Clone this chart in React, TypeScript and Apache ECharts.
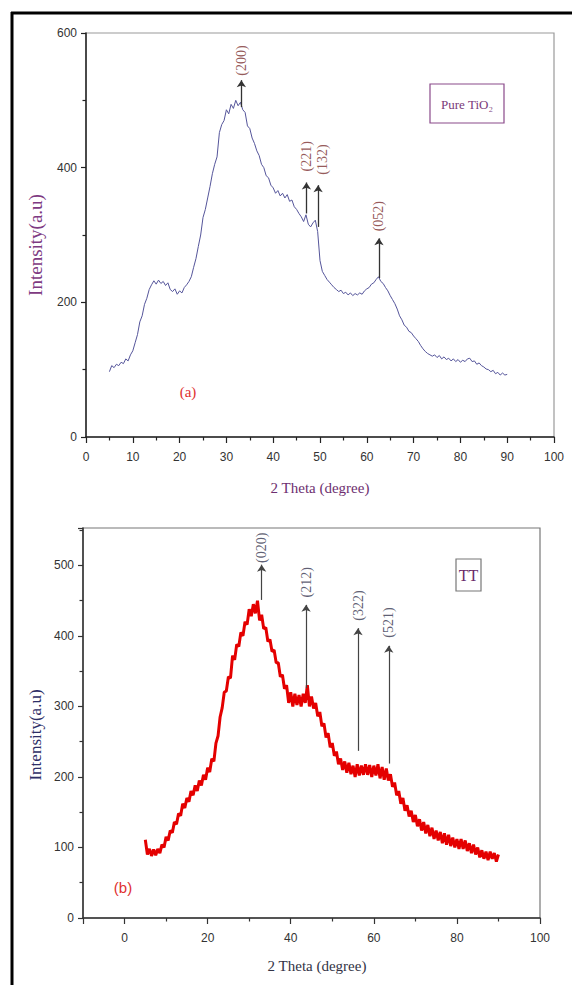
import React, { useEffect, useRef } from "react";
import * as echarts from "echarts";

// 2-theta sampling grid (degrees), shared by both patterns
const theta = [
  5, 5.5, 6, 6.5, 7, 7.5, 8, 8.5, 9, 9.5,
  10, 10.5, 11, 11.5, 12, 12.5, 13, 13.5, 14, 14.5,
  15, 15.5, 16, 16.5, 17, 17.5, 18, 18.5, 19, 19.5,
  20, 20.5, 21, 21.5, 22, 22.5, 23, 23.5, 24, 24.5,
  25, 25.5, 26, 26.5, 27, 27.5, 28, 28.5, 29, 29.5,
  30, 30.5, 31, 31.5, 32, 32.5, 33, 33.5, 34, 34.5,
  35, 35.5, 36, 36.5, 37, 37.5, 38, 38.5, 39, 39.5,
  40, 40.5, 41, 41.5, 42, 42.5, 43, 43.5, 44, 44.5,
  45, 45.5, 46, 46.5, 47, 47.5, 48, 48.5, 49, 49.5,
  50, 50.5, 51, 51.5, 52, 52.5, 53, 53.5, 54, 54.5,
  55, 55.5, 56, 56.5, 57, 57.5, 58, 58.5, 59, 59.5,
  60, 60.5, 61, 61.5, 62, 62.5, 63, 63.5, 64, 64.5,
  65, 65.5, 66, 66.5, 67, 67.5, 68, 68.5, 69, 69.5,
  70, 70.5, 71, 71.5, 72, 72.5, 73, 73.5, 74, 74.5,
  75, 75.5, 76, 76.5, 77, 77.5, 78, 78.5, 79, 79.5,
  80, 80.5, 81, 81.5, 82, 82.5, 83, 83.5, 84, 84.5,
  85, 85.5, 86, 86.5, 87, 87.5, 88, 88.5, 89, 89.5,
  90,
];

// (a) Pure TiO2 intensity
const pureTiO2 = [
  97, 106, 103, 108, 106, 111, 109, 116, 113, 122,
  128, 140, 152, 171, 180, 197, 206, 219, 226, 232,
  227, 233, 228, 231, 225, 229, 219, 216, 220, 212,
  217, 214, 222, 226, 231, 238, 252, 265, 283, 300,
  326, 338, 355, 372, 391, 405, 416, 452, 464, 470,
  486, 480, 494, 488, 500, 492, 497, 486, 482, 462,
  458, 444, 436, 425, 418, 405, 400, 388, 385, 374,
  370, 362, 366, 358, 362, 355, 360, 350, 352, 342,
  338, 332, 327, 320, 330, 316, 312, 318, 322, 305,
  262, 246, 240, 234, 230, 226, 222, 219, 216, 218,
  213, 215, 211, 214, 210, 213, 211, 214, 212, 217,
  220, 222, 227, 229, 234, 238, 231, 228, 222, 217,
  210, 204, 198, 190, 180, 174, 166, 163, 157, 155,
  150, 146, 142, 136, 131, 127, 124, 122, 120, 122,
  118, 121, 116, 119, 115, 117, 113, 116, 112, 115,
  111, 114, 112, 116, 117, 112, 113, 108, 110, 106,
  104, 101, 100, 97, 99, 94, 96, 92, 95, 92,
  93,
];

// (b) TT intensity
const ttSample = [
  111, 90, 98, 88, 97, 89, 98, 92, 104, 100,
  115, 110, 124, 121, 136, 133, 148, 145, 162, 156,
  170, 165, 180, 174, 188, 180, 195, 188, 203, 196,
  213, 207, 226, 222, 248, 258, 285, 298, 320, 322,
  342, 340, 372, 366, 388, 385, 405, 400, 420, 416,
  438, 428, 445, 432, 450, 422, 430, 410, 412, 392,
  395, 378, 380, 362, 362, 342, 345, 325, 330, 305,
  320, 300, 318, 302, 316, 300, 318, 305, 330, 300,
  314, 297, 305, 286, 292, 272, 276, 256, 262, 242,
  248, 230, 236, 218, 226, 210, 222, 206, 220, 204,
  216, 200, 218, 202, 216, 203, 218, 203, 217, 200,
  216, 202, 218, 198, 214, 196, 212, 195, 204, 186,
  192, 174, 180, 162, 170, 152, 160, 144, 152, 136,
  146, 130, 140, 124, 136, 120, 132, 116, 128, 112,
  124, 110, 122, 106, 120, 104, 118, 102, 114, 100,
  112, 98, 112, 98, 110, 95, 106, 92, 104, 90,
  100, 86, 96, 84, 94, 82, 94, 84, 92, 80,
  90,
];

// peak annotations (a)
const topPeakLabels = ["(200)", "(221)", "(132)", "(052)"];
const topPeakTheta = [33.2, 47.1, 49.6, 62.6];
const topArrowFrom = [490, 332, 312, 236];
const topArrowTo = [530, 378, 374, 295];
const topLabelTheta = [33.2, 47.1, 50.6, 62.6];
const topLabelY = [559, 417, 412, 328];

// peak annotations (b)
const ttPeakLabels = ["(020)", "(212)", "(322)", "(521)"];
const ttPeakTheta = [33.0, 43.7, 56.2, 63.6];
const ttArrowFrom = [451, 326, 237, 219];
const ttArrowTo = [501, 444, 411, 386];
const ttLabelY = [525, 476, 443, 419];

const SANS = "'Liberation Sans', Arial, sans-serif";
const SERIF = "'Liberation Serif', 'Times New Roman', serif";

export default function App() {
  const ref = useRef<HTMLDivElement>(null);

  useEffect(() => {
    if (!ref.current) return;
    const chart = echarts.init(ref.current, undefined, { renderer: "svg" });

    const axisLabel = { color: "#333", fontFamily: SANS, fontSize: 12 };

    const option: any = {
      animation: false,
      backgroundColor: "#fff",
      grid: [
        { left: 86, top: 33, width: 468, height: 404, show: true, borderColor: "#9a9a9a", borderWidth: 1.2, containLabel: false },
        { left: 83, top: 528, width: 457, height: 390, show: true, borderColor: "#777", borderWidth: 1.2, containLabel: false },
      ],
      xAxis: [
        {
          type: "value", gridIndex: 0, min: 0, max: 100, interval: 10,
          axisLine: { onZero: false, lineStyle: { color: "#222", width: 1.5 } },
          axisTick: { show: true, length: 6, lineStyle: { color: "#222", width: 1.2 } },
          minorTick: { show: true, splitNumber: 2, length: 3.5, lineStyle: { color: "#222", width: 1.2 } },
          splitLine: { show: false },
          axisLabel: { ...axisLabel, margin: 14 },
        },
        {
          type: "value", gridIndex: 1, min: -10, max: 100, splitNumber: 5,
          axisLine: { onZero: false, lineStyle: { color: "#333", width: 1.5 } },
          axisTick: { show: true, length: 6, lineStyle: { color: "#333", width: 1.2 } },
          minorTick: { show: true, splitNumber: 2, length: 3.5, lineStyle: { color: "#333", width: 1.2 } },
          splitLine: { show: false },
          axisLabel: { ...axisLabel, margin: 14, showMinLabel: false },
        },
      ],
      yAxis: [
        {
          type: "value", gridIndex: 0, min: 0, max: 600, interval: 200,
          axisLine: { show: true, onZero: false, lineStyle: { color: "#222", width: 1.5 } },
          axisTick: { show: true, length: 5, lineStyle: { color: "#222", width: 1.2 } },
          minorTick: { show: true, splitNumber: 2, length: 3.5, lineStyle: { color: "#222", width: 1.2 } },
          splitLine: { show: false },
          axisLabel: { ...axisLabel, margin: 9 },
        },
        {
          type: "value", gridIndex: 1, min: 0, max: 553, interval: 100,
          axisLine: { show: true, onZero: false, lineStyle: { color: "#333", width: 1.5 } },
          axisTick: { show: true, length: 5, lineStyle: { color: "#333", width: 1.2 } },
          minorTick: { show: true, splitNumber: 2, length: 3.5, lineStyle: { color: "#333", width: 1.2 } },
          splitLine: { show: false },
          axisLabel: { ...axisLabel, margin: 9, showMaxLabel: false },
        },
      ],
      series: [
        {
          type: "line", xAxisIndex: 0, yAxisIndex: 0, showSymbol: false, silent: true,
          data: theta.map((t, i) => [t, pureTiO2[i]]),
          lineStyle: { color: "#55559a", width: 1 },
          markLine: {
            silent: true, symbol: ["none", "arrow"], symbolSize: 7,
            label: { show: false },
            lineStyle: { color: "#333", width: 1.3, type: "solid" },
            data: topPeakTheta.map((t, i) => [{ coord: [t, topArrowFrom[i]] }, { coord: [t, topArrowTo[i]] }]),
          },
        },
        {
          type: "scatter", xAxisIndex: 0, yAxisIndex: 0, symbolSize: 1, silent: true,
          itemStyle: { color: "transparent" },
          data: topLabelTheta.map((t, i) => [t, topLabelY[i], topPeakLabels[i]]),
          label: {
            show: true, position: "inside", rotate: 90,
            formatter: (p: any) => p.data[2],
            color: "#7a2e2e", fontFamily: SERIF, fontSize: 14,
          },
        },
        {
          type: "line", xAxisIndex: 1, yAxisIndex: 1, showSymbol: false, silent: true,
          data: theta.map((t, i) => [t, ttSample[i]]),
          lineStyle: { color: "#e40000", width: 3 },
          markLine: {
            silent: true, symbol: ["none", "arrow"], symbolSize: 7,
            label: { show: false },
            lineStyle: { color: "#444", width: 1.2, type: "solid" },
            data: ttPeakTheta.map((t, i) => [{ coord: [t, ttArrowFrom[i]] }, { coord: [t, ttArrowTo[i]] }]),
          },
        },
        {
          type: "scatter", xAxisIndex: 1, yAxisIndex: 1, symbolSize: 1, silent: true,
          itemStyle: { color: "transparent" },
          data: ttPeakTheta.map((t, i) => [t, ttLabelY[i], ttPeakLabels[i]]),
          label: {
            show: true, position: "inside", rotate: 90,
            formatter: (p: any) => p.data[2],
            color: "#34344e", fontFamily: SERIF, fontSize: 14,
          },
        },
      ],
      graphic: [
        // outer frame
        { type: "line", shape: { x1: 12, y1: 12, x2: 12, y2: 985 }, style: { stroke: "#000", lineWidth: 3 } },
        { type: "line", shape: { x1: 11, y1: 13, x2: 572, y2: 13 }, style: { stroke: "#000", lineWidth: 3 } },
        // legend boxes
        { type: "rect", shape: { x: 430, y: 84, width: 74, height: 39 }, style: { fill: "#fff", stroke: "#8a4a8a", lineWidth: 1.2 } },
        { type: "text", x: 467, y: 104, style: { text: "Pure TiO₂", font: `13px ${SERIF}`, fill: "#7a3a7a", align: "center", verticalAlign: "middle", textAlign: "center", textVerticalAlign: "middle" } },
        { type: "rect", shape: { x: 456, y: 559, width: 25, height: 32 }, style: { fill: "#fff", stroke: "#777", lineWidth: 1.2 } },
        { type: "text", x: 468.5, y: 575, style: { text: "TT", font: `16px ${SERIF}`, fill: "#6a2a6a", align: "center", verticalAlign: "middle", textAlign: "center", textVerticalAlign: "middle" } },
        // panel tags
        { type: "text", x: 188, y: 392, style: { text: "(a)", font: `15px ${SERIF}`, fill: "#e03030", align: "center", verticalAlign: "middle", textAlign: "center", textVerticalAlign: "middle" } },
        { type: "text", x: 123, y: 887, style: { text: "(b)", font: `15px ${SANS}`, fill: "#e03030", align: "center", verticalAlign: "middle", textAlign: "center", textVerticalAlign: "middle" } },
        // axis titles
        { type: "text", x: 320, y: 488, style: { text: "2 Theta (degree)", font: `15px ${SERIF}`, fill: "#6e2f70", align: "center", verticalAlign: "middle", textAlign: "center", textVerticalAlign: "middle" } },
        { type: "text", x: 35, y: 245, rotation: Math.PI / 2, style: { text: "Intensity(a.u)", font: `19px ${SERIF}`, fill: "#7e3a82", align: "center", verticalAlign: "middle", textAlign: "center", textVerticalAlign: "middle" } },
        { type: "text", x: 317, y: 966, style: { text: "2 Theta (degree)", font: `15px ${SERIF}`, fill: "#333345", align: "center", verticalAlign: "middle", textAlign: "center", textVerticalAlign: "middle" } },
        { type: "text", x: 35, y: 735, rotation: Math.PI / 2, style: { text: "Intensity(a.u)", font: `17px ${SERIF}`, fill: "#2e2e66", align: "center", verticalAlign: "middle", textAlign: "center", textVerticalAlign: "middle" } },
      ],
    };

    chart.setOption(option);
    return () => chart.dispose();
  }, []);

  return (
    <div
      ref={ref}
      style={{ position: "absolute", left: 0, top: 0, width: 572, height: 985, background: "#fff" }}
    />
  );
}
